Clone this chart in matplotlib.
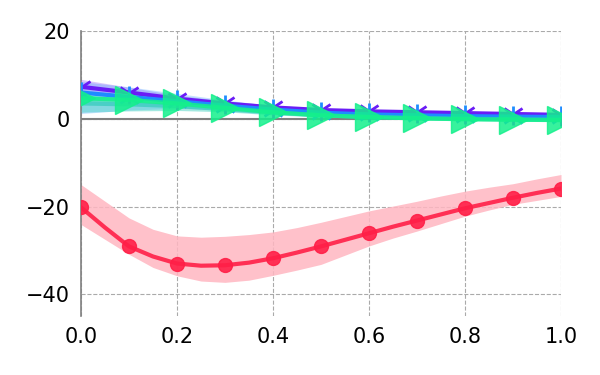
import matplotlib
matplotlib.use("Agg")
import matplotlib.pyplot as plt

x = [0.0, 0.1, 0.2, 0.3, 0.4, 0.5, 0.6, 0.7, 0.8, 0.9, 1.0]
x_fine = [0.0, 0.05, 0.1, 0.15, 0.2, 0.25, 0.3, 0.35, 0.4, 0.45, 0.5,
          0.55, 0.6, 0.65, 0.7, 0.75, 0.8, 0.85, 0.9, 0.95, 1.0]

red = [-20.2, -24.8, -29.1, -31.4, -33.0, -33.5, -33.4, -32.8, -31.8, -30.5, -29.1,
       -27.6, -26.1, -24.6, -23.2, -21.8, -20.4, -19.2, -18.0, -16.9, -15.9]
red_lo = [-24.1, -27.5, -30.9, -33.9, -35.8, -37.0, -37.3, -36.8, -35.7, -34.5, -33.2,
          -31.1, -29.0, -27.2, -25.6, -23.9, -22.2, -20.8, -19.5, -18.6, -17.7]
red_hi = [-15.0, -18.8, -22.6, -25.2, -26.7, -27.0, -26.8, -26.4, -25.8, -24.8, -23.6,
          -22.3, -21.0, -19.9, -18.8, -17.6, -16.5, -15.6, -14.8, -13.7, -12.7]

purple = [7.3, 6.0, 4.6, 3.5, 2.6, 2.0, 1.7, 1.5, 1.3, 1.1, 0.9]
purple_lo = [5.6, 4.8, 3.8, 2.9, 2.1, 1.6, 1.3, 1.1, 0.9, 0.7, 0.5]
purple_hi = [9.0, 7.2, 5.4, 4.1, 3.1, 2.4, 2.1, 1.9, 1.7, 1.5, 1.3]

blue = [6.0, 5.0, 4.0, 3.0, 2.1, 1.4, 1.0, 0.8, 0.6, 0.5, 0.4]
blue_lo = [1.2, 2.0, 2.4, 2.0, 1.4, 0.9, 0.6, 0.4, 0.2, 0.1, 0.0]
blue_hi = [8.5, 7.3, 5.8, 4.3, 3.0, 2.0, 1.5, 1.2, 1.0, 0.9, 0.8]

teal = [3.5, 3.3, 2.9, 2.2, 1.4, 0.8, 0.4, 0.2, 0.0, -0.1, -0.2]
teal_lo = [1.5, 1.8, 1.9, 1.6, 0.9, 0.4, 0.1, -0.2, -0.4, -0.5, -0.6]
teal_hi = [5.5, 4.8, 3.9, 2.8, 1.9, 1.2, 0.8, 0.6, 0.4, 0.3, 0.2]

green = [4.7, 4.3, 3.5, 2.5, 1.5, 0.8, 0.4, 0.1, -0.1, -0.2, -0.3]
green_lo = [4.0, 3.8, 3.1, 2.2, 1.2, 0.5, 0.1, -0.2, -0.4, -0.5, -0.6]
green_hi = [5.4, 4.8, 3.9, 2.8, 1.8, 1.1, 0.7, 0.4, 0.2, 0.1, 0.0]

xticks = [0.0, 0.2, 0.4, 0.6, 0.8, 1.0]
yticks = [-40, -20, 0, 20]

fig = plt.figure(figsize=(6, 3.75), dpi=100)
ax = fig.add_axes([0.135, 0.157, 0.8, 0.76])

ax.axhline(0, color="#808080", lw=1.5, zorder=1)

c_red = "#ff1f47"
c_purple = "#6a1cf6"
c_blue = "#1e8cff"
c_teal = "#33ccbb"
c_green = "#14f08c"

ax.fill_between(x_fine, red_lo, red_hi, color="#ffb6c1", alpha=0.85, lw=0, zorder=2)
ax.plot(x_fine, red, color=c_red, lw=3, marker="o", ms=10, markevery=2,
        alpha=0.9, zorder=5)

ax.fill_between(x, purple_lo, purple_hi, color=c_purple, alpha=0.25, lw=0, zorder=2)
ax.fill_between(x, blue_lo, blue_hi, color=c_blue, alpha=0.25, lw=0, zorder=2)
ax.fill_between(x, teal_lo, teal_hi, color=c_teal, alpha=0.45, lw=0, zorder=2)
ax.fill_between(x, green_lo, green_hi, color=c_green, alpha=0.3, lw=0, zorder=2)

ax.plot(x, purple, color=c_purple, lw=3, marker="1", ms=16, mew=2, zorder=5)
ax.plot(x, blue, color=c_blue, lw=3, marker="2", ms=16, mew=2, zorder=5)
ax.plot(x, teal, color=c_teal, lw=3, alpha=0.7, zorder=5)
ax.plot(x, green, color=c_green, lw=3, marker=">", ms=20, alpha=0.85, zorder=6)

ax.set_xlim(0, 1)
ax.set_ylim(-45, 20)
ax.set_xticks(xticks)
ax.set_yticks(yticks)
ax.set_xticklabels([f"{t:.1f}" for t in xticks])
ax.tick_params(length=0, labelsize=15, pad=8)
ax.grid(True, ls="--", color="#aaaaaa", lw=0.8)
ax.set_axisbelow(True)
for s in ["top", "right", "bottom"]:
    ax.spines[s].set_visible(False)
ax.spines["left"].set_color("#808080")
ax.spines["left"].set_linewidth(1.2)

fig.savefig("out.png", dpi=100)
